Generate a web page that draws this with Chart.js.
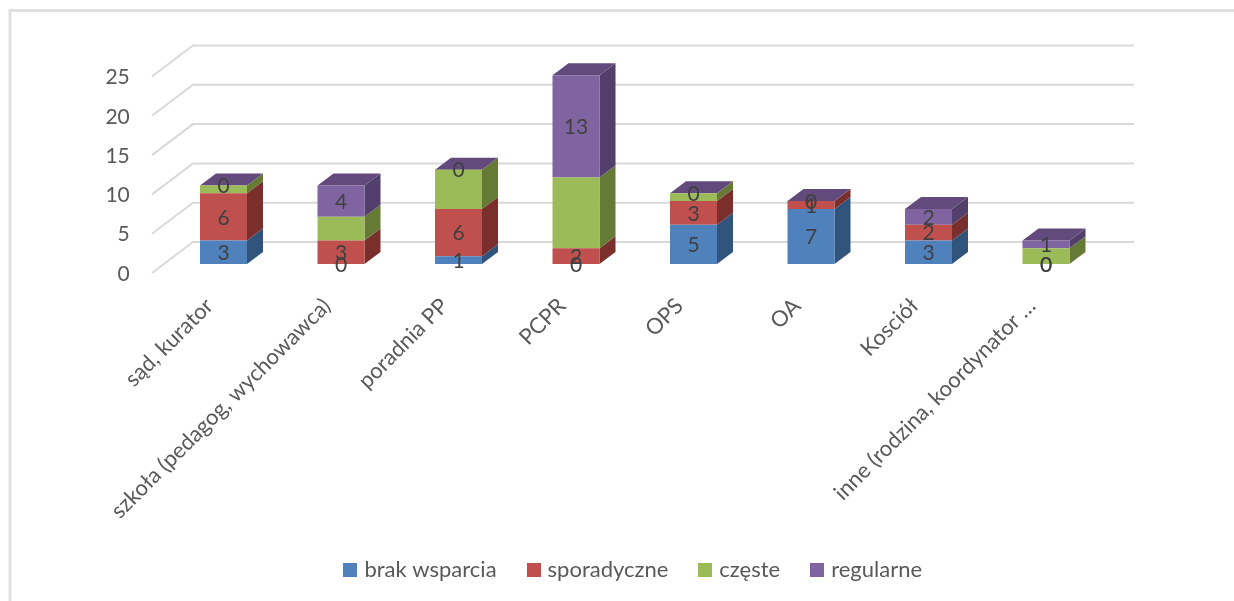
<!DOCTYPE html>
<html>
<head>
    <meta charset="UTF-8">
    <title>Formy wsparcia</title>
    <script src="https://cdn.jsdelivr.net/npm/chart.js"></script>
    <style>
        html, body { margin: 0; padding: 0; background: #fff; }
        canvas { display: block; }
    </style>
</head>
<body>
<canvas id="supportChart" width="1234" height="601"></canvas>
<script>
    const categories = ['sąd, kurator', 'szkoła (pedagog, wychowawca)', 'poradnia PP', 'PCPR', 'OPS', 'OA', 'Kosciół', 'inne (rodzina, koordynator …'];
    const brakWsparcia = [3, 0, 1, 0, 5, 7, 3, 0];
    const sporadyczne = [6, 3, 6, 2, 3, 1, 2, 0];
    const czeste = [1, 3, 5, 9, 1, 0, 0, 2];
    const regularne = [0, 4, 0, 13, 0, 0, 2, 1];
    const yTicks = [0, 5, 10, 15, 20, 25];

    const FONT = 'Lato';
    const DEPTH_X = 16, DEPTH_Y = 12;
    const GRID_COLOR = '#d9d9d9';

    function poly(ctx, pts, color) {
        ctx.fillStyle = color;
        ctx.beginPath();
        pts.forEach(function (p, i) { i ? ctx.lineTo(p[0], p[1]) : ctx.moveTo(p[0], p[1]); });
        ctx.closePath();
        ctx.fill();
    }

    // legend square, wider than the box chart.js reserves so the text sits closer
    function swatch(color) {
        const c = document.createElement('canvas');
        c.width = 14;
        c.height = 14;
        const g = c.getContext('2d');
        g.fillStyle = color;
        g.fillRect(0, 0, 14, 14);
        return c;
    }

    // back wall, floor lines and the frame round the chart
    const wallPlugin = {
        id: 'wall',
        beforeDatasetsDraw(chart) {
            const ctx = chart.ctx, y = chart.scales.y;
            ctx.save();
            ctx.strokeStyle = '#e0e0e0';
            ctx.lineWidth = 3;
            ctx.beginPath();
            ctx.moveTo(10, 601);
            ctx.lineTo(10, 10.5);
            ctx.lineTo(1234, 10.5);
            ctx.stroke();
            ctx.strokeStyle = GRID_COLOR;
            ctx.lineWidth = 2;
            yTicks.forEach(function (t) {
                const py = y.getPixelForValue(t);
                ctx.beginPath();
                ctx.moveTo(152, py + 9);
                ctx.lineTo(193, py - 22);
                ctx.lineTo(1134, py - 22);
                ctx.stroke();
            });
            ctx.restore();
        }
    };

    // side and top faces of each bar, taken from the bar elements
    const depthPlugin = {
        id: 'depth',
        beforeDatasetsDraw(chart) {
            const ctx = chart.ctx;
            const count = chart.data.datasets.length;
            chart.data.datasets.forEach(function (ds, d) {
                chart.getDatasetMeta(d).data.forEach(function (bar) {
                    const p = bar.getProps(['x', 'y', 'base', 'width']);
                    const r = p.x + p.width / 2, l = p.x - p.width / 2;
                    poly(ctx, [[r, p.y], [r + DEPTH_X, p.y - DEPTH_Y], [r + DEPTH_X, p.base - DEPTH_Y], [r, p.base]], ds.sideColor);
                    if (d === count - 1) {
                        poly(ctx, [[l, p.y], [l + DEPTH_X, p.y - DEPTH_Y], [r + DEPTH_X, p.y - DEPTH_Y], [r, p.y]], ds.topColor);
                    }
                });
            });
        }
    };

    const labelPlugin = {
        id: 'valueLabels',
        afterDatasetsDraw(chart) {
            const ctx = chart.ctx;
            ctx.save();
            ctx.font = '21px ' + FONT;
            ctx.fillStyle = '#404040';
            ctx.textAlign = 'center';
            ctx.textBaseline = 'middle';
            chart.data.datasets.forEach(function (ds, d) {
                if (!ds.showValues) return;
                chart.getDatasetMeta(d).data.forEach(function (bar, i) {
                    const p = bar.getProps(['x', 'y', 'base']);
                    ctx.fillText(ds.data[i], p.x, (p.y + p.base) / 2 + 1);
                });
            });
            ctx.restore();
        }
    };

    function series(label, data, color, sideColor, topColor, showValues) {
        return {
            label: label, data: data, backgroundColor: color,
            sideColor: sideColor, topColor: topColor, showValues: showValues,
            borderWidth: 0, categoryPercentage: 1, barPercentage: 0.4
        };
    }

    new Chart(document.getElementById('supportChart'), {
        type: 'bar',
        data: {
            labels: categories,
            datasets: [
                series('brak wsparcia', brakWsparcia, '#4f81bd', '#30547c', '#3a5f8c', true),
                series('sporadyczne', sporadyczne, '#c0504d', '#7b2f2d', '#8c3a38', true),
                series('częste', czeste, '#9bbb59', '#657a35', '#728a3e', false),
                series('regularne', regularne, '#8064a2', '#523f6b', '#624b7c', true)
            ]
        },
        plugins: [wallPlugin, depthPlugin, labelPlugin],
        options: {
            responsive: false,
            animation: false,
            layout: { padding: { top: 67.5, right: 129.25, bottom: 10, left: 0 } },
            plugins: {
                tooltip: { enabled: false },
                legend: {
                    position: 'bottom',
                    fullSize: false,
                    labels: {
                        usePointStyle: true,
                        pointStyleWidth: 6,
                        boxHeight: 14,
                        padding: 34,
                        color: '#595959',
                        font: { family: FONT, size: 22 },
                        generateLabels(chart) {
                            return chart.data.datasets.map(function (ds, i) {
                                return {
                                    text: ds.label,
                                    fontColor: '#595959',
                                    fillStyle: ds.backgroundColor,
                                    strokeStyle: ds.backgroundColor,
                                    lineWidth: 0,
                                    pointStyle: swatch(ds.backgroundColor),
                                    hidden: false,
                                    datasetIndex: i
                                };
                            });
                        }
                    }
                }
            },
            scales: {
                x: {
                    stacked: true,
                    grid: { display: false },
                    border: { display: false },
                    afterFit(scale) { scale.height = 261; },
                    ticks: {
                        autoSkip: false,
                        minRotation: 45,
                        maxRotation: 45,
                        padding: 21,
                        labelOffset: -14,
                        color: '#595959',
                        font: { family: FONT, size: 22 }
                    }
                },
                y: {
                    stacked: true,
                    min: 0,
                    max: 25,
                    grid: { display: false },
                    border: { display: false },
                    afterFit(scale) { scale.width = 164.75; },
                    afterBuildTicks(scale) { scale.ticks = yTicks.map(function (v) { return { value: v }; }); },
                    ticks: {
                        padding: 27,
                        labelOffset: 10,
                        color: '#595959',
                        font: { family: FONT, size: 21 }
                    }
                }
            }
        }
    });
</script>
</body>
</html>
